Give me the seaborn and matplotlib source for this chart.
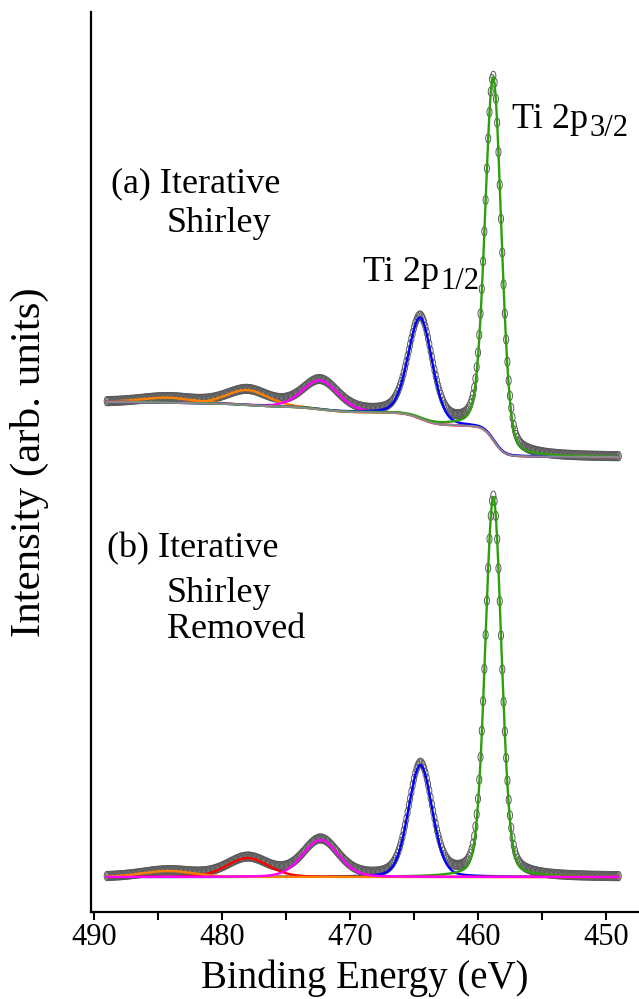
import numpy as np
import pandas as pd
import matplotlib
matplotlib.use("Agg")
import matplotlib.pyplot as plt
from matplotlib.path import Path
from matplotlib.ticker import MultipleLocator
import seaborn as sns

# ---------------- values ----------------
peak_names   = ["2p3/2", "2p1/2", "sat472", "sat478", "sat484"]
peak_centres = [458.8, 464.5, 472.3, 478.0, 484.2]      # eV
peak_fwhm    = [1.5, 2.2, 3.3, 3.8, 4.8]                # eV
heights_a    = [363, 101, 29, 15, 5]                    # panel (a), above background
heights_b    = [380, 112, 37, 19, 6]                    # panel (b), above baseline
baseline_a_low = 455      # panel (a) background on the low-BE side
shirley_step_a = 55       # total Shirley step in panel (a)
baseline_b     = 35       # panel (b) flat baseline
energy_start, energy_end, energy_step = 489.0, 449.0, 0.1
lorentz_fit  = 0.2        # Lorentzian fraction of the fitted components
lorentz_data = 0.28       # Lorentzian fraction of the measured line shapes
xticks_major = [490, 480, 470, 460, 450]

colors_a = ["#2e9e0e", "#0000ff", "#ff00ff", "#ff8000", "#ff8000"]
colors_b = ["#2e9e0e", "#0000ff", "#ff00ff", "#ff0000", "#ff8000"]

# ---------------- build curves ----------------
E = np.round(np.arange(energy_start, energy_end - 1e-9, -energy_step), 2)


def pv(x, c, h, w, eta):
    g = np.exp(-4 * np.log(2) * (x - c) ** 2 / w ** 2)
    l = 1.0 / (1.0 + 4 * (x - c) ** 2 / w ** 2)
    return h * (eta * l + (1 - eta) * g)


def shirley(signal, low, step):
    # E is descending: integrate from the low-BE end
    s = signal[::-1]
    cum = np.cumsum(s)
    cum = cum / cum[-1]
    return (low + step * cum)[::-1]


comps_a = [pv(E, c, h, w, lorentz_fit) for c, h, w in zip(peak_centres, heights_a, peak_fwhm)]
comps_b = [pv(E, c, h, w, lorentz_fit) for c, h, w in zip(peak_centres, heights_b, peak_fwhm)]
data_a_peaks = sum(pv(E, c, h, w, lorentz_data) for c, h, w in zip(peak_centres, heights_a, peak_fwhm))
data_b_peaks = sum(pv(E, c, h, w, lorentz_data) for c, h, w in zip(peak_centres, heights_b, peak_fwhm))

bg_a = shirley(sum(comps_a), baseline_a_low, shirley_step_a)
data_a = data_a_peaks + shirley(data_a_peaks, baseline_a_low, shirley_step_a)
data_b = data_b_peaks + baseline_b

# ---------------- style ----------------
sns.set_style("ticks")
plt.rcParams["font.family"] = ["Liberation Serif", "DejaVu Serif"]
plt.rcParams["text.color"] = "black"
plt.rcParams["axes.labelcolor"] = "black"
plt.rcParams["xtick.color"] = "black"
plt.rcParams["ytick.color"] = "black"

fig = plt.figure(figsize=(6.39, 9.99), dpi=100)
ax = fig.add_axes([91 / 639, 87 / 999, 1 - 91 / 639, 900 / 999])

theta = np.linspace(0, 2 * np.pi, 40)
ellipse = Path(np.column_stack([0.55 * np.cos(theta), np.sin(theta)]), closed=True)

for d in (data_a, data_b):
    ax.scatter(E, d, marker=ellipse, s=44, facecolors="none",
               edgecolors="#5a5a5a", linewidths=0.7, zorder=2)

lw = 1.7
# panel (a): components on Shirley background
order_a = [4, 3, 2, 1, 0]
for i in order_a:
    sns.lineplot(x=E, y=comps_a[i] + bg_a, color=colors_a[i], lw=lw, ax=ax,
                 errorbar=None, zorder=3)
sns.lineplot(x=E, y=bg_a, color="#8a8a8a", lw=1.5, ax=ax, errorbar=None, zorder=3)

# panel (b): components on flat baseline
order_b = [1, 0, 3, 4, 2]
for i in order_b:
    sns.lineplot(x=E, y=comps_b[i] + baseline_b, color=colors_b[i], lw=lw, ax=ax,
                 errorbar=None, zorder=3)

# ---------------- axes ----------------
ax.set_xlim(490.23, 447.42)
ax.set_ylim(0, 900)
ax.set_yticks([])
ax.set_xticks(xticks_major)
ax.xaxis.set_minor_locator(MultipleLocator(5))
ax.tick_params(axis="x", which="both", direction="out", length=6, width=1.5,
               labelsize=22, pad=2, colors="black")
for s in ("top", "right"):
    ax.spines[s].set_visible(False)
for s in ("left", "bottom"):
    ax.spines[s].set_linewidth(1.6)
    ax.spines[s].set_color("black")

ax.set_xlabel("Binding Energy (eV)", fontsize=28, labelpad=5, color="black")
ax.set_ylabel("Intensity (arb. units)", fontsize=31, labelpad=30, color="black")

fs = 26
ax.text(488.7, 720, "(a) Iterative", fontsize=fs, va="baseline", ha="left")
ax.text(484.3, 680, "Shirley", fontsize=fs, va="baseline", ha="left")
ax.text(489.0, 355, "(b) Iterative", fontsize=fs, va="baseline", ha="left")
ax.text(484.3, 310, "Shirley", fontsize=fs, va="baseline", ha="left")
ax.text(484.3, 274, "Removed", fontsize=fs, va="baseline", ha="left")

t1 = ax.text(457.34, 784, "Ti 2p", fontsize=fs, va="baseline", ha="left")
ax.annotate("3/2", xy=(1, 0), xycoords=t1, xytext=(1, -5), textcoords="offset points",
            fontsize=22, va="bottom", ha="left")
t2 = ax.text(469.0, 631, "Ti 2p", fontsize=fs, va="baseline", ha="left")
ax.annotate("1/2", xy=(1, 0), xycoords=t2, xytext=(1, -5), textcoords="offset points",
            fontsize=22, va="bottom", ha="left")

fig.savefig("out.png", dpi=100)
